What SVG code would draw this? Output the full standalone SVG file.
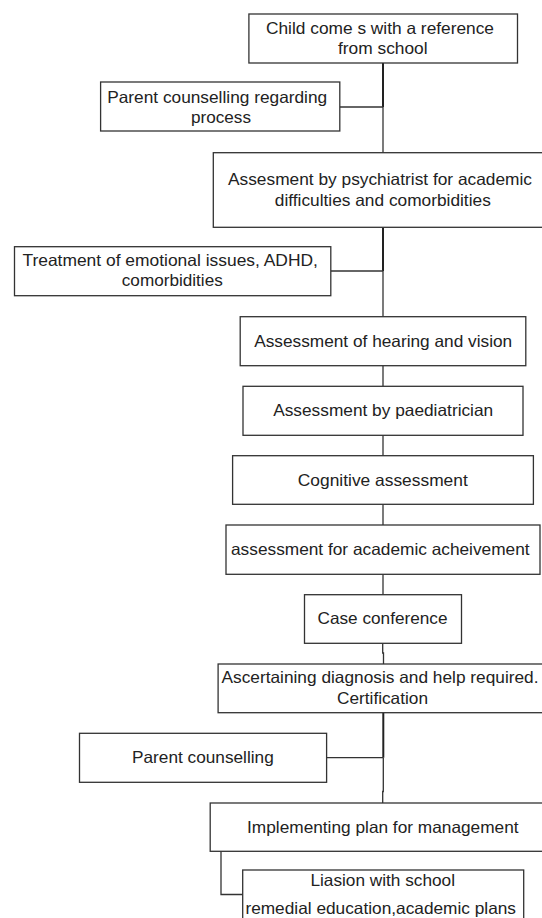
<svg xmlns="http://www.w3.org/2000/svg" width="542" height="918" viewBox="0 0 542 918">
<style>
.box{fill:#fff;stroke:#333;stroke-width:1.3}
.t{font-family:"Liberation Sans",Arial,sans-serif;font-size:16.5px;fill:#222;text-anchor:middle}
.c{fill:none;stroke:#333;stroke-width:1.3}
.ct{fill:none;stroke:#222;stroke-width:2}
</style>
<rect width="542" height="918" fill="#fff"/>
<g id="connectors">
<line class="ct" x1="383" y1="63" x2="383" y2="107"/>
<line class="c" x1="383" y1="107" x2="383" y2="152.7"/>
<line class="c" x1="339.8" y1="107" x2="383" y2="107"/>
<line class="ct" x1="383" y1="227.3" x2="383" y2="271"/>
<line class="c" x1="383" y1="271" x2="383" y2="316.7"/>
<line class="c" x1="330.8" y1="271" x2="383" y2="271"/>
<line class="c" x1="383" y1="365.7" x2="383" y2="386.3"/>
<line class="c" x1="383" y1="435.3" x2="383" y2="455.7"/>
<line class="c" x1="383" y1="504.3" x2="383" y2="525"/>
<line class="c" x1="383" y1="574.3" x2="383" y2="594.7"/>
<path class="c" d="M382.7 643.3 V653 H383.5 V664"/>
<path class="ct" d="M383.3 712.7 V757.7"/>
<path class="c" d="M383.3 757.7 V791.5 H382.7 V803"/>
<line class="c" x1="326.6" y1="757.7" x2="383.3" y2="757.7"/>
<path class="c" d="M221 851.3 V894.5 H242.7"/>
</g>
<g id="n1"><rect class="box" x="248.9" y="14" width="268.6" height="49"/>
<text class="t" x="380" y="33.5" textLength="228" lengthAdjust="spacingAndGlyphs">Child come s with a reference</text>
<text class="t" x="382.8" y="54" textLength="89.6" lengthAdjust="spacingAndGlyphs">from school</text></g>
<g id="n2"><rect class="box" x="100.6" y="82" width="239.2" height="49"/>
<text class="t" x="217.2" y="103" textLength="220" lengthAdjust="spacingAndGlyphs">Parent counselling regarding</text>
<text class="t" x="221" y="122.5" textLength="60" lengthAdjust="spacingAndGlyphs">process</text></g>
<g id="n3"><rect class="box" x="213.3" y="152.7" width="340" height="74.6"/>
<text class="t" x="380" y="185" textLength="304" lengthAdjust="spacingAndGlyphs">Assesment by psychiatrist for academic</text>
<text class="t" x="382.8" y="206" textLength="216" lengthAdjust="spacingAndGlyphs">difficulties and comorbidities</text></g>
<g id="n4"><rect class="box" x="14.5" y="246.7" width="316.3" height="49"/>
<text class="t" x="170.2" y="266" textLength="295.5" lengthAdjust="spacingAndGlyphs">Treatment of emotional issues, ADHD,</text>
<text class="t" x="172.3" y="286" textLength="101" lengthAdjust="spacingAndGlyphs">comorbidities</text></g>
<g id="n5"><rect class="box" x="240.2" y="316.7" width="285.6" height="49"/>
<text class="t" x="383.2" y="346.7" textLength="258" lengthAdjust="spacingAndGlyphs">Assessment of hearing and vision</text></g>
<g id="n6"><rect class="box" x="243" y="386.3" width="280" height="49"/>
<text class="t" x="383.2" y="416" textLength="220" lengthAdjust="spacingAndGlyphs">Assessment by paediatrician</text></g>
<g id="n7"><rect class="box" x="232.6" y="455.7" width="300.8" height="48.6"/>
<text class="t" x="382.8" y="486" textLength="170" lengthAdjust="spacingAndGlyphs">Cognitive assessment</text></g>
<g id="n8"><rect class="box" x="226" y="525" width="314" height="49.3"/>
<text class="t" x="380.3" y="555" textLength="298.6" lengthAdjust="spacingAndGlyphs">assessment for academic acheivement</text></g>
<g id="n9"><rect class="box" x="304.5" y="594.7" width="157" height="48.6"/>
<text class="t" x="382.5" y="624" textLength="130" lengthAdjust="spacingAndGlyphs">Case conference</text></g>
<g id="n10"><rect class="box" x="218.1" y="664" width="340" height="48.7"/>
<text class="t" x="380" y="683.3" textLength="317" lengthAdjust="spacingAndGlyphs">Ascertaining diagnosis and help required.</text>
<text class="t" x="382.5" y="704" textLength="91" lengthAdjust="spacingAndGlyphs">Certification</text></g>
<g id="n11"><rect class="box" x="79.5" y="733.3" width="247.1" height="49"/>
<text class="t" x="202.9" y="763.3" textLength="141.7" lengthAdjust="spacingAndGlyphs">Parent counselling</text></g>
<g id="n12"><rect class="box" x="210.2" y="803" width="345" height="48.3"/>
<text class="t" x="382.8" y="832.7" textLength="271.5" lengthAdjust="spacingAndGlyphs">Implementing plan for management</text></g>
<g id="n13"><rect class="box" x="242.7" y="870" width="281" height="70"/>
<text class="t" x="382.7" y="886" textLength="144.6" lengthAdjust="spacingAndGlyphs">Liasion with school</text>
<text class="t" x="380.7" y="914" textLength="270.6" lengthAdjust="spacingAndGlyphs">remedial education,academic plans</text></g>
</svg>
